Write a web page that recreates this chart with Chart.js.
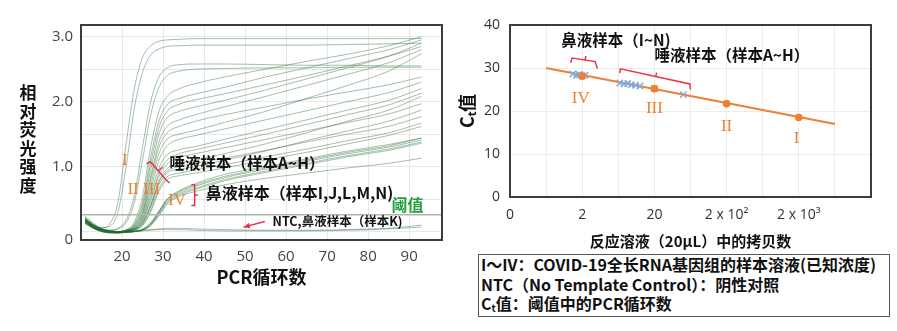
<!DOCTYPE html>
<html lang="zh">
<head>
<meta charset="UTF-8">
<title>PCR</title>
<script src="https://cdn.jsdelivr.net/npm/chart.js@4.4.1/dist/chart.umd.min.js"></script>
<style>
  body { margin: 0; width: 897px; height: 331px; background: #fff; position: relative; overflow: hidden; }
  #left { position: absolute; left: 0; top: 0; }
  #right { position: absolute; left: 450px; top: 0; }
  #key { position: absolute; left: 478px; top: 254px; width: 412px; height: 63px; box-sizing: border-box;
         border: 1px solid #555; padding-left: 2px; white-space: nowrap; color: #111;
         font: bold 16px "Noto Sans CJK SC", sans-serif; line-height: 19.5px; }
  #key sub { font-size: 10px; vertical-align: -2px; line-height: 0; }
</style>
</head>
<body>

<canvas id="left" width="450" height="300"></canvas>
<canvas id="right" width="447" height="252"></canvas>
<div id="key">
  I～IV：COVID-19全长RNA基因组的样本溶液(已知浓度)<br>
  NTC（No Template Control）：阴性对照<br>
  C<sub>t</sub>值：阈值中的PCR循环数
</div>

<script>
    // ---- left chart: amplification curves ----
    const cycles = [11, 13, 15, 17, 19, 21, 23, 25, 27, 29, 31, 34, 38, 45, 55, 65, 75, 85, 93];

    // standards I and II
    const standardCurves = [
        [0.24, 0.13, 0.06, 0.12, 0.45, 1.35, 2.2, 2.68, 2.86, 2.93, 2.95, 2.96, 2.97, 2.97, 2.97, 2.97, 2.97, 2.97, 2.97],
        [0.22, 0.12, 0.06, 0.08, 0.3, 1.0, 1.9, 2.45, 2.72, 2.81, 2.85, 2.86, 2.87, 2.87, 2.87, 2.87, 2.88, 2.89, 2.9],
        [0.2, 0.1, 0.05, 0.02, 0.05, 0.18, 0.55, 1.3, 2.0, 2.38, 2.52, 2.57, 2.58, 2.58, 2.57, 2.56, 2.56, 2.55, 2.55],
        [0.2, 0.1, 0.04, 0.02, 0.04, 0.14, 0.45, 1.1, 1.8, 2.22, 2.4, 2.47, 2.5, 2.51, 2.52, 2.52, 2.53, 2.53, 2.53]
    ];
    // standard III + saliva samples
    const salivaCurves = [
        [0.2, 0.1, 0.04, 0.01, 0.0, 0.03, 0.15, 0.55, 1.3, 1.85, 2.08, 2.2, 2.28, 2.38, 2.5, 2.62, 2.73, 2.86, 3.0],
        [0.2, 0.1, 0.04, 0.01, 0.0, 0.02, 0.12, 0.45, 1.15, 1.7, 1.95, 2.05, 2.12, 2.22, 2.38, 2.52, 2.66, 2.8, 2.95],
        [0.19, 0.1, 0.04, 0.01, 0.0, 0.02, 0.1, 0.4, 1.05, 1.6, 1.85, 1.96, 2.03, 2.12, 2.26, 2.4, 2.55, 2.7, 2.85],
        [0.19, 0.09, 0.03, 0.01, 0.0, 0.02, 0.09, 0.35, 0.95, 1.5, 1.75, 1.85, 1.92, 2.02, 2.18, 2.35, 2.52, 2.7, 2.9],
        [0.18, 0.09, 0.03, 0.01, 0.0, 0.01, 0.08, 0.3, 0.85, 1.38, 1.62, 1.72, 1.8, 1.92, 2.08, 2.25, 2.42, 2.6, 2.8],
        [0.18, 0.09, 0.03, 0.0, 0.0, 0.01, 0.07, 0.28, 0.8, 1.3, 1.52, 1.62, 1.7, 1.8, 1.92, 2.04, 2.15, 2.26, 2.38],
        [0.18, 0.08, 0.03, 0.0, 0.0, 0.01, 0.06, 0.25, 0.72, 1.2, 1.42, 1.5, 1.56, 1.68, 1.85, 2.05, 2.25, 2.47, 2.74],
        [0.17, 0.08, 0.02, 0.0, 0.0, 0.01, 0.05, 0.22, 0.65, 1.1, 1.32, 1.42, 1.48, 1.58, 1.72, 1.86, 2.0, 2.14, 2.3],
        [0.17, 0.08, 0.02, 0.0, 0.0, 0.01, 0.05, 0.2, 0.58, 0.98, 1.18, 1.26, 1.31, 1.42, 1.57, 1.72, 1.87, 2.02, 2.2],
        [0.17, 0.08, 0.02, 0.0, 0.0, 0.0, 0.04, 0.18, 0.52, 0.9, 1.1, 1.2, 1.26, 1.36, 1.5, 1.65, 1.8, 1.95, 2.13],
        [0.16, 0.07, 0.02, 0.0, -0.01, 0.0, 0.04, 0.16, 0.48, 0.85, 1.04, 1.14, 1.2, 1.29, 1.42, 1.55, 1.68, 1.81, 1.97],
        [0.16, 0.07, 0.02, 0.0, -0.01, 0.0, 0.03, 0.14, 0.42, 0.78, 0.97, 1.05, 1.1, 1.2, 1.35, 1.52, 1.7, 1.87, 2.08],
        [0.16, 0.07, 0.02, 0.0, -0.01, 0.0, 0.03, 0.12, 0.38, 0.72, 0.9, 0.96, 1.0, 1.1, 1.24, 1.4, 1.55, 1.7, 1.87],
        [0.15, 0.07, 0.02, 0.0, -0.01, 0.0, 0.03, 0.13, 0.4, 0.76, 0.93, 1.0, 1.05, 1.13, 1.25, 1.38, 1.5, 1.62, 1.77],
        [0.15, 0.06, 0.01, -0.01, -0.01, 0.0, 0.02, 0.1, 0.33, 0.66, 0.84, 0.9, 0.95, 1.03, 1.15, 1.27, 1.4, 1.52, 1.67],
        [0.15, 0.06, 0.01, -0.01, -0.01, 0.0, 0.02, 0.09, 0.3, 0.62, 0.8, 0.86, 0.9, 0.98, 1.1, 1.22, 1.35, 1.48, 1.62]
    ];
    // standard IV + nasal samples
    const nasalCurves = [
        [0.14, 0.06, 0.01, -0.01, -0.02, -0.01, 0.0, 0.04, 0.14, 0.32, 0.5, 0.62, 0.72, 0.85, 0.98, 1.1, 1.22, 1.32, 1.44],
        [0.14, 0.06, 0.01, -0.01, -0.02, -0.01, 0.0, 0.03, 0.12, 0.3, 0.48, 0.6, 0.7, 0.83, 0.96, 1.08, 1.2, 1.3, 1.41],
        [0.13, 0.05, 0.0, -0.02, -0.02, -0.01, 0.0, 0.03, 0.11, 0.28, 0.46, 0.58, 0.67, 0.8, 0.93, 1.05, 1.17, 1.27, 1.38],
        [0.13, 0.05, 0.0, -0.02, -0.02, -0.01, 0.0, 0.02, 0.1, 0.26, 0.44, 0.56, 0.65, 0.78, 0.91, 1.03, 1.15, 1.25, 1.36],
        [0.12, 0.05, 0.0, -0.02, -0.02, -0.01, 0.0, 0.02, 0.09, 0.24, 0.42, 0.54, 0.62, 0.72, 0.82, 0.9, 0.98, 1.05, 1.13],
        [0.14, 0.06, 0.01, -0.01, -0.02, -0.01, 0.0, 0.03, 0.12, 0.3, 0.5, 0.63, 0.74, 0.88, 1.0, 1.12, 1.24, 1.34, 1.44]
    ];
    // NTC and sample K
    const ntcCurves = [
        [0.2, 0.1, 0.04, 0.01, 0.0, 0.0, 0.01, 0.02, 0.03, 0.04, 0.05, 0.05, 0.04, 0.03, 0.02, 0.02, 0.03, 0.05, 0.1],
        [0.18, 0.08, 0.03, 0.0, -0.01, -0.01, 0.0, 0.01, 0.02, 0.03, 0.03, 0.03, 0.02, 0.01, 0.01, 0.01, 0.02, 0.04, 0.07]
    ];
    const thresholdValue = 0.26;

    const cycleTicks = [10, 20, 30, 40, 50, 60, 70, 80, 90, 98];
    const cycleLabels = ['', '20', '30', '40', '50', '60', '70', '80', '90', ''];
    const fluorTicks = [-0.13, 0, 0.5, 1, 1.5, 2, 2.5, 3, 3.18];
    const fluorLabels = ['0', '', '', '1.0', '', '2.0', '', '3.0', ''];

    // annotations on the left chart (data coordinates)
    const leftRomanText = ['I', 'II', 'III', 'IV'];
    const leftRomanX = [20.7, 22.7, 27.2, 33.4];
    const leftRomanY = [1.1, 0.64, 0.64, 0.48];
    const leftNoteText = ['唾液样本（样本A~H）', '鼻液样本（样本I,J,L,M,N)', 'NTC,鼻液样本（样本K)'];
    const leftNoteX = [31.6, 40.4, 56.7];
    const leftNoteY = [1.05, 0.6, 0.155];
    const thresholdLabel = '阈值';
    const thresholdLabelX = 85.7;
    const thresholdLabelY = 0.41;
    const salivaBracketX = [25.95, 26.9, 30.8, 31.6];
    const salivaBracketY = [1.04, 1.075, 0.79, 0.75];
    const salivaTickX = [28.9, 29.85];
    const salivaTickY = [0.94, 0.99];
    const nasalBracketX = [36.9, 37.7, 37.7, 36.9];
    const nasalBracketY = [0.72, 0.72, 0.40, 0.40];
    const nasalTickX = [37.7, 38.5];
    const nasalTickY = [0.56, 0.56];
    const arrowX = [54.8, 49.6];
    const arrowY = [0.154, 0.068];
    const leftAxisTitle = '相对荧光强度';

    // ---- right chart: Ct vs copies ----
    const copyLabels = ['0', '2', '20', '2 x 10²', '2 x 10³'];
    const copyTicks = [0, 0.5, 1, 1.5, 2, 2.5, 3, 3.5, 4, 4.5, 5];
    const standardPos = [1, 2, 3, 4];
    const standardCt = [28.1, 25.2, 21.7, 18.5];
    const fitPos = [0.5, 4.5];
    const fitCt = [30, 17];
    const nasalPos = [0.87, 0.92, 0.96, 1.0, 1.04];
    const nasalCt = [28.6, 28.3, 28.5, 28.2, 28.3];
    const salivaPos = [1.52, 1.58, 1.63, 1.68, 1.74, 1.8, 2.0, 2.4];
    const salivaCt = [26.5, 26.3, 26.4, 26.1, 26.0, 25.8, 25.2, 23.8];

    const rightNoteText = ['鼻液样本（I~N)', '唾液样本（样本A~H）'];
    const rightNoteX = [0.71, 2.0];
    const rightNoteY = [36.5, 32.9];
    const rightRomanText = ['IV', 'III', 'II', 'I'];
    const rightRomanX = [0.98, 2.0, 3.0, 3.97];
    const rightRomanY = [22.95, 20.6, 16.35, 13.65];
    const rNasalBracketX = [0.84, 0.86, 1.18, 1.21];
    const rNasalBracketY = [31.2, 32.3, 31.5, 29.9];
    const rNasalTickX = [1.04, 1.05];
    const rNasalTickY = [31.85, 32.8];
    const rSalivaBracketX = [1.52, 1.53, 2.49, 2.5];
    const rSalivaBracketY = [28.8, 29.8, 26.3, 25.0];
    const rSalivaTickX = [2.02, 2.03];
    const rSalivaTickY = [28.0, 28.9];

    const GREEN = 'rgba(35,105,45,0.42)';
    const ORANGE = '#ee8033';
    const RED = '#e8334f';
    const CJK = '"Noto Sans CJK SC", sans-serif';

    function px(chart, x, y) {
        return [chart.scales.x.getPixelForValue(x), chart.scales.y.getPixelForValue(y)];
    }
    function path(chart, xs, ys, color, width) {
        const ctx = chart.ctx;
        ctx.save();
        ctx.strokeStyle = color;
        ctx.lineWidth = width;
        ctx.beginPath();
        xs.forEach((v, i) => {
            const p = px(chart, v, ys[i]);
            if (i === 0) ctx.moveTo(p[0], p[1]); else ctx.lineTo(p[0], p[1]);
        });
        ctx.stroke();
        ctx.restore();
    }
    function text(chart, s, x, y, font, color, align) {
        const ctx = chart.ctx;
        const p = px(chart, x, y);
        ctx.save();
        ctx.font = font;
        ctx.fillStyle = color;
        ctx.textAlign = align;
        ctx.textBaseline = 'middle';
        ctx.fillText(s, p[0], p[1]);
        ctx.restore();
    }
    function frame(chart, color) {
        const a = chart.chartArea, ctx = chart.ctx;
        ctx.save();
        ctx.strokeStyle = color;
        ctx.lineWidth = 2;
        ctx.strokeRect(a.left, a.top, a.right - a.left, a.bottom - a.top);
        ctx.restore();
    }

    const leftNotes = {
        id: 'leftNotes',
        afterDatasetsDraw(chart) {
            frame(chart, '#3c3c3c');
            leftRomanText.forEach((s, i) =>
                text(chart, s, leftRomanX[i], leftRomanY[i], '17px "Liberation Serif", serif', ORANGE, 'center'));
            text(chart, leftNoteText[0], leftNoteX[0], leftNoteY[0], '600 15.5px ' + CJK, '#111', 'left');
            text(chart, leftNoteText[1], leftNoteX[1], leftNoteY[1], '600 16px ' + CJK, '#111', 'left');
            text(chart, leftNoteText[2], leftNoteX[2], leftNoteY[2], '600 12.5px ' + CJK, '#111', 'left');
            text(chart, thresholdLabel, thresholdLabelX, thresholdLabelY, 'bold 16px ' + CJK, '#22a03c', 'left');
            path(chart, salivaBracketX, salivaBracketY, RED, 1.5);
            path(chart, salivaTickX, salivaTickY, RED, 1.5);
            path(chart, nasalBracketX, nasalBracketY, RED, 1.5);
            path(chart, nasalTickX, nasalTickY, RED, 1.5);
            path(chart, arrowX, arrowY, RED, 1.5);
            // arrow head
            const a = px(chart, arrowX[0], arrowY[0]), b = px(chart, arrowX[1], arrowY[1]);
            const ang = Math.atan2(b[1] - a[1], b[0] - a[0]);
            const ctx = chart.ctx;
            ctx.save();
            ctx.fillStyle = RED;
            ctx.beginPath();
            ctx.moveTo(b[0], b[1]);
            ctx.lineTo(b[0] - 7 * Math.cos(ang - 0.4), b[1] - 7 * Math.sin(ang - 0.4));
            ctx.lineTo(b[0] - 7 * Math.cos(ang + 0.4), b[1] - 7 * Math.sin(ang + 0.4));
            ctx.closePath();
            ctx.fill();
            // stacked y-axis title
            ctx.font = 'bold 17px ' + CJK;
            ctx.fillStyle = '#111';
            ctx.textAlign = 'center';
            ctx.textBaseline = 'middle';
            leftAxisTitle.split('').forEach((c, i) => ctx.fillText(c, 28, 93 + i * 18.5));
            ctx.restore();
        }
    };

    const rightNotes = {
        id: 'rightNotes',
        afterDatasetsDraw(chart) {
            frame(chart, '#3c3c3c');
            rightNoteText.forEach((s, i) =>
                text(chart, s, rightNoteX[i], rightNoteY[i], '600 15.5px ' + CJK, '#111', 'left'));
            rightRomanText.forEach((s, i) =>
                text(chart, s, rightRomanX[i], rightRomanY[i], '17px "Liberation Serif", serif', ORANGE, 'center'));
            path(chart, rNasalBracketX, rNasalBracketY, RED, 1.5);
            path(chart, rNasalTickX, rNasalTickY, RED, 1.5);
            path(chart, rSalivaBracketX, rSalivaBracketY, RED, 1.5);
            path(chart, rSalivaTickX, rSalivaTickY, RED, 1.5);
        }
    };

    function curveSets(list) {
        return list.map(vals => ({
            data: vals.map((v, i) => ({x: cycles[i], y: v})),
            borderColor: GREEN,
            borderWidth: 1,
            pointRadius: 0,
            cubicInterpolationMode: 'monotone'
        }));
    }

    const leftDatasets = [
        {
            data: [{x: 10, y: thresholdValue}, {x: 98, y: thresholdValue}],
            borderColor: '#a9b9a9',
            borderWidth: 1.5,
            pointRadius: 0
        }
    ].concat(curveSets(standardCurves), curveSets(salivaCurves), curveSets(nasalCurves), curveSets(ntcCurves));

    new Chart('left', {
        type: 'line',
        data: {datasets: leftDatasets},
        options: {
            responsive: false,
            animation: false,
            layout: {padding: {top: 25, right: 8, left: 0, bottom: 0}},
            plugins: {legend: {display: false}, tooltip: {enabled: false}},
            scales: {
                x: {
                    type: 'linear', min: 10, max: 98,
                    afterBuildTicks: s => { s.ticks = cycleTicks.map(v => ({value: v})); },
                    afterFit: s => { s.height = 60; },
                    grid: {color: '#e8e8e8', drawTicks: false},
                    border: {display: false},
                    ticks: {
                        autoSkip: false, maxRotation: 0, padding: 8, color: '#444',
                        font: {family: 'Open Sans', size: 15},
                        callback: (v, i) => cycleLabels[i]
                    },
                    title: {
                        display: true, text: 'PCR循环数', color: '#111',
                        font: {family: CJK, size: 18, weight: 'bold'},
                        padding: {top: 0, bottom: 12}
                    }
                },
                y: {
                    min: -0.13, max: 3.18,
                    afterBuildTicks: s => { s.ticks = fluorTicks.map(v => ({value: v})); },
                    afterFit: s => { s.width = 81; },
                    grid: {color: '#e8e8e8', drawTicks: false},
                    border: {display: false},
                    ticks: {
                        autoSkip: false, padding: 8, color: '#444',
                        font: {family: 'Open Sans', size: 15},
                        callback: (v, i) => fluorLabels[i]
                    }
                }
            }
        },
        plugins: [leftNotes]
    });

    const toPoints = (xs, ys) => xs.map((v, i) => ({x: v, y: ys[i]}));

    new Chart('right', {
        type: 'scatter',
        data: {
            datasets: [
                {
                    data: toPoints(standardPos, standardCt),
                    pointRadius: 3.5, pointBackgroundColor: ORANGE, pointBorderColor: ORANGE
                },
                {
                    data: toPoints(nasalPos, nasalCt),
                    pointStyle: 'crossRot', pointRadius: 4.5, borderWidth: 1.5,
                    pointBorderColor: '#7eaed8', pointBorderWidth: 1.5
                },
                {
                    data: toPoints(salivaPos, salivaCt),
                    pointStyle: 'crossRot', pointRadius: 4.5, borderWidth: 1.5,
                    pointBorderColor: '#7eaed8', pointBorderWidth: 1.5
                },
                {
                    data: toPoints(fitPos, fitCt),
                    showLine: true, borderColor: ORANGE, borderWidth: 2, pointRadius: 0
                }
            ]
        },
        options: {
            responsive: false,
            animation: false,
            layout: {padding: {top: 25, right: 26, left: 0, bottom: 0}},
            plugins: {legend: {display: false}, tooltip: {enabled: false}},
            scales: {
                x: {
                    type: 'linear', min: 0, max: 5,
                    afterBuildTicks: s => { s.ticks = copyTicks.map(v => ({value: v})); },
                    afterFit: s => { s.height = 55; },
                    grid: {color: '#ececec', drawTicks: false},
                    border: {display: false},
                    ticks: {
                        autoSkip: false, maxRotation: 0, padding: 10, color: '#333',
                        font: {family: 'Open Sans', size: 14},
                        callback: v => (Number.isInteger(v) && v < copyLabels.length) ? copyLabels[v] : ''
                    },
                    title: {
                        display: true, text: '反应溶液（20μL）中的拷贝数', color: '#111',
                        font: {family: CJK, size: 15, weight: 'bold'},
                        padding: {top: 0, bottom: 2}
                    }
                },
                y: {
                    min: 0, max: 40,
                    ticks: {
                        stepSize: 10, padding: 10, color: '#333',
                        font: {family: 'Open Sans', size: 14}
                    },
                    afterFit: s => { s.width = 60; },
                    grid: {color: '#ececec', drawTicks: false},
                    border: {display: false},
                    title: {
                        display: true, text: 'Cₜ值', color: '#111',
                        font: {family: CJK, size: 18, weight: 'bold'},
                        padding: {top: 6, bottom: 0}
                    }
                }
            }
        },
        plugins: [rightNotes]
    });
</script>

</body>
</html>
